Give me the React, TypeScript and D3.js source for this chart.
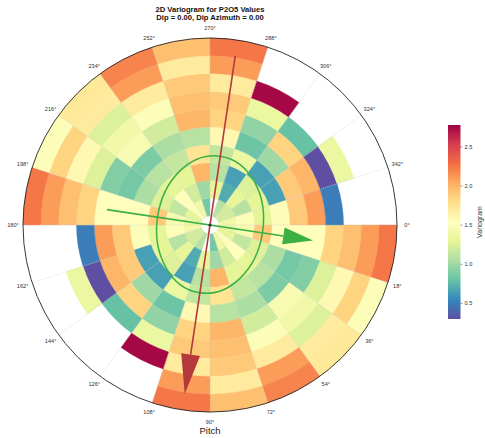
import React from 'react';
import * as d3 from 'd3';

const W = 485;
const H = 438;
const CX = 210;
const CY = 225;
const R = 187;

// sector start azimuths (deg, clockwise from east)
const sectorStartDeg = d3.range(0, 360, 18);
const sectorWidthDeg = 18;
// lag bins (centres), radial axis goes to 10.5
const lagCenters = [1, 2, 3, 4, 5, 6, 7, 8, 9, 10];
const lagMax = 10.5;
const angleTickLabels = sectorStartDeg.map((a) => `${a}°`);
const colorbarTicks = [0.5, 1.0, 1.5, 2.0, 2.5];
const vmin = 0.3;
const vmax = 2.78;

// variogram values per sector (rows) and lag (columns); null = no data
const gammaBySector: (number | null)[][] = [
  [1.35, 1.45, 1.9, 1.55, 1.55, 1.55, 1.85, 1.95, 2.1, 2.25],
  [1.3, 1.15, 1.25, 1.05, 0.85, 0.9, 1.25, 1.6, 1.85, 1.5],
  [1.5, 1.55, 1.3, 1.1, 0.88, 1.45, 1.4, 1.25, 1.7, 1.72],
  [1.4, 1.2, 1.3, 1.15, 1.05, 1.2, 1.5, 1.7, 2.1, 2.2],
  [0.85, 1.0, 2.0, 1.75, 1.1, 2.0, 1.95, 1.9, 1.7, 1.95],
  [null, 1.3, 1.1, 1.15, 1.6, 1.85, 1.9, 1.7, 2.1, 2.25],
  [1.1, 0.7, 0.65, 1.35, 0.82, 0.95, 1.35, 2.75, null, null],
  [1.2, 1.3, 1.25, 0.65, 1.0, 1.85, 0.8, null, null, null],
  [1.2, 1.1, 1.3, 0.65, 1.9, 2.0, 0.3, 1.35, null, null],
  [1.4, 1.5, 1.3, 1.5, 1.9, 2.1, 0.5, null, null, null],
  [1.35, 1.45, 1.9, 1.55, 1.55, 1.55, 1.85, 1.95, 2.1, 2.25],
  [1.3, 1.15, 1.25, 1.05, 0.85, 0.9, 1.25, 1.6, 1.85, 1.5],
  [1.5, 1.55, 1.3, 1.1, 0.88, 1.45, 1.4, 1.25, 1.7, 1.72],
  [1.4, 1.2, 1.3, 1.15, 1.05, 1.2, 1.5, 1.7, 2.1, 2.2],
  [0.85, 1.0, 2.0, 1.75, 1.1, 2.0, 1.95, 1.9, 1.7, 1.95],
  [null, 1.3, 1.1, 1.15, 1.6, 1.85, 1.9, 1.7, 2.1, 2.25],
  [1.1, 0.7, 0.65, 1.35, 0.82, 0.95, 1.35, 2.75, null, null],
  [1.2, 1.3, 1.25, 0.65, 1.0, 1.85, 0.8, null, null, null],
  [1.2, 1.1, 1.3, 0.65, 1.9, 2.0, 0.3, 1.35, null, null],
  [1.4, 1.5, 1.3, 1.5, 1.9, 2.1, 0.5, null, null, null],
];

// anisotropy (azimuth deg clockwise from east, ranges in lag units)
const majorAzimuth = 98.5;
const majorRange = 9.6;
const minorAzimuth = 8.5;
const minorRange = 5.85;
const ellipseMajor = 3.88;
const ellipseMinor = 2.98;

const FONT = 'Liberation Sans, Arial, Helvetica, sans-serif';
const rad = (d: number) => (d * Math.PI) / 180;

function Arrow({ az, len, color, hl, hw }: { az: number; len: number; color: string; hl: number; hw: number }) {
  const ux = Math.cos(rad(az));
  const uy = Math.sin(rad(az));
  const tail = [CX - ux * len, CY - uy * len];
  const tip = [CX + ux * len, CY + uy * len];
  const base = [tip[0] - ux * hl, tip[1] - uy * hl];
  const px = -uy;
  const py = ux;
  const pts = [
    tip,
    [base[0] + px * hw, base[1] + py * hw],
    [base[0] - px * hw, base[1] - py * hw],
  ];
  return (
    <g>
      <line x1={tail[0]} y1={tail[1]} x2={base[0]} y2={base[1]} stroke={color} strokeWidth={1.6} />
      <polygon points={pts.map((p) => p.join(',')).join(' ')} fill={color} />
    </g>
  );
}

export default function App() {
  const rScale = d3.scaleLinear().domain([0, lagMax]).range([0, R]);
  const spectralR = [...d3.schemeSpectral[11]].reverse();
  const color = d3
    .scaleLinear<string>()
    .domain(d3.range(11).map((i) => vmin + (i * (vmax - vmin)) / 10))
    .range(spectralR)
    .interpolate(d3.interpolateRgb)
    .clamp(true);
  const arc = d3.arc<any>();

  const cells: JSX.Element[] = [];
  gammaBySector.forEach((row, k) => {
    const a0 = sectorStartDeg[k];
    row.forEach((v, j) => {
      if (v == null) return;
      const lag = lagCenters[j];
      const d = arc({
        innerRadius: rScale(lag - 0.5),
        outerRadius: rScale(lag + 0.5),
        startAngle: rad(a0 + 90),
        endAngle: rad(a0 + sectorWidthDeg + 90),
      }) as string;
      const c = color(v);
      cells.push(<path key={`${k}-${j}`} d={d} fill={c} stroke={c} strokeWidth={0.3} />);
    });
  });

  const cbTop = 125;
  const cbBottom = 319;
  const cbX = 448;
  const cbW = 12.5;
  const cbScale = d3.scaleLinear().domain([vmin, vmax]).range([cbBottom, cbTop]);

  const ellA = rScale(ellipseMajor);
  const ellB = rScale(ellipseMinor);

  return (
    <svg width={W} height={H} style={{ position: 'absolute', left: 0, top: 0, background: '#fff' }} fontFamily={FONT}>
      <defs>
        <linearGradient id="cb" x1="0" y1="1" x2="0" y2="0">
          {spectralR.map((c, i) => (
            <stop key={i} offset={`${(i / 10) * 100}%`} stopColor={c} />
          ))}
        </linearGradient>
      </defs>
      <text x={210} y={12} textAnchor="middle" fontSize={7.6} fontWeight="bold" fill="#111">
        2D Variogram for P2O5 Values
      </text>
      <text x={210} y={19.5} textAnchor="middle" fontSize={7.6} fontWeight="bold" fill="#111">
        Dip = 0.00, Dip Azimuth = 0.00
      </text>

      <g transform={`translate(${CX},${CY})`}>{cells}</g>

      {/* radial grid */}
      {sectorStartDeg.map((a) => (
        <line
          key={a}
          x1={CX + rScale(0.5) * Math.cos(rad(a))}
          y1={CY + rScale(0.5) * Math.sin(rad(a))}
          x2={CX + R * Math.cos(rad(a))}
          y2={CY + R * Math.sin(rad(a))}
          stroke="#c8c8c8"
          strokeWidth={0.6}
          strokeDasharray="1,1.2"
        />
      ))}
      <circle cx={CX} cy={CY} r={rScale(0.5)} fill="none" stroke="#ddd" strokeWidth={0.5} strokeDasharray="1,1" />
      <circle cx={CX} cy={CY} r={R} fill="none" stroke="#222" strokeWidth={0.9} />

      {/* angle labels */}
      {sectorStartDeg.map((a, i) => (
        <text
          key={a}
          x={CX + (R + 10) * Math.cos(rad(a))}
          y={CY + (R + 10) * Math.sin(rad(a))}
          textAnchor="middle"
          dominantBaseline="central"
          fontSize={5.6}
          fill="#333"
        >
          {angleTickLabels[i]}
        </text>
      ))}

      {/* anisotropy ellipse */}
      <ellipse
        cx={CX}
        cy={CY - 0.5}
        rx={ellB}
        ry={ellA}
        transform={`rotate(${minorAzimuth} ${CX} ${CY})`}
        fill="none"
        stroke="#3cb043"
        strokeWidth={1.5}
      />
      <Arrow az={minorAzimuth} len={rScale(minorRange)} color="#3cb043" hl={30} hw={8.5} />
      <Arrow az={majorAzimuth} len={rScale(majorRange)} color="#b5393a" hl={40} hw={9.5} />
      <circle cx={CX} cy={CY} r={1.6} fill="#333" />

      <text x={210} y={434} textAnchor="middle" fontSize={9.5} fill="#222">
        Pitch
      </text>

      {/* colorbar */}
      <rect x={cbX} y={cbTop} width={cbW} height={cbBottom - cbTop} fill="url(#cb)" />
      {colorbarTicks.map((t) => (
        <g key={t}>
          <line x1={cbX + cbW} x2={cbX + cbW + 2} y1={cbScale(t)} y2={cbScale(t)} stroke="#333" strokeWidth={0.5} />
          <text x={cbX + cbW + 4} y={cbScale(t)} dominantBaseline="central" fontSize={5.6} fill="#333">
            {t.toFixed(1)}
          </text>
        </g>
      ))}
      <text
        transform={`translate(479,${(cbTop + cbBottom) / 2}) rotate(-90)`}
        textAnchor="middle"
        dominantBaseline="central"
        fontSize={7}
        fill="#333"
      >
        Variogram
      </text>
    </svg>
  );
}
